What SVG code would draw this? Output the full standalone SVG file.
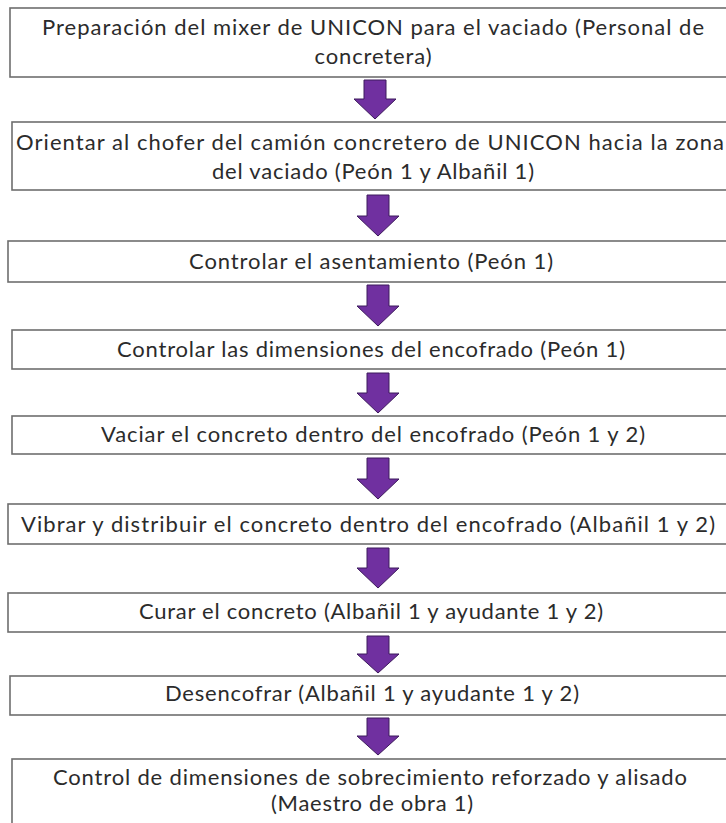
<svg xmlns="http://www.w3.org/2000/svg" width="726" height="823" viewBox="0 0 726 823">
  <style>
    .box { fill: #ffffff; stroke: #6e6e6e; stroke-width: 1.6; }
    .lbl { font-family: Lato, "Open Sans", "Liberation Sans", sans-serif; font-size: 22px; fill: #2b2b2b; text-anchor: middle; }
    .arrow { fill: #7030a0; stroke: #3d1a5c; stroke-width: 1; stroke-linejoin: miter; }
  </style>
  <rect width="726" height="823" fill="#ffffff"/>

  <!-- connectors: block arrows between the steps -->
  <g id="connectors">
    <path class="arrow" d="M364,80 H386 V99 H396 L375,119 L354,99 H364 Z"/>
    <path class="arrow" d="M367,195 H389 V216 H399 L378,236 L357,216 H367 Z"/>
    <path class="arrow" d="M367,285 H389 V306 H399 L378,326 L357,306 H367 Z"/>
    <path class="arrow" d="M367,373 H389 V393 H399 L378,413 L357,393 H367 Z"/>
    <path class="arrow" d="M367,458 H389 V479 H399 L378,499 L357,479 H367 Z"/>
    <path class="arrow" d="M367,548 H389 V568 H399 L378,588 L357,568 H367 Z"/>
    <path class="arrow" d="M367,636 H389 V654 H399 L378,673 L357,654 H367 Z"/>
    <path class="arrow" d="M367,718 H389 V736 H399 L378,755 L357,736 H367 Z"/>
  </g>

  <g id="step1">
    <rect class="box" x="10" y="8" width="730" height="69"/>
    <text class="lbl" x="373" y="35" textLength="662">Preparación del mixer de UNICON para el vaciado (Personal de</text>
    <text class="lbl" x="373" y="64" textLength="117">concretera)</text>
  </g>
  <g id="step2">
    <rect class="box" x="12" y="122" width="730" height="68"/>
    <text class="lbl" x="370" y="150" textLength="708">Orientar al chofer del camión concretero de UNICON hacia la zona</text>
    <text class="lbl" x="373" y="179" textLength="322">del vaciado (Peón 1 y Albañil 1)</text>
  </g>
  <g id="step3">
    <rect class="box" x="8" y="241" width="730" height="41"/>
    <text class="lbl" x="371" y="269" textLength="364">Controlar el asentamiento (Peón 1)</text>
  </g>
  <g id="step4">
    <rect class="box" x="12" y="330" width="730" height="39"/>
    <text class="lbl" x="371" y="357" textLength="508">Controlar las dimensiones del encofrado (Peón 1)</text>
  </g>
  <g id="step5">
    <rect class="box" x="12" y="416" width="730" height="38"/>
    <text class="lbl" x="373" y="442" textLength="544">Vaciar el concreto dentro del encofrado (Peón 1 y 2)</text>
  </g>
  <g id="step6">
    <rect class="box" x="8" y="504" width="730" height="40"/>
    <text class="lbl" x="368" y="532" textLength="694">Vibrar y distribuir el concreto dentro del encofrado (Albañil 1 y 2)</text>
  </g>
  <g id="step7">
    <rect class="box" x="8" y="593" width="730" height="39"/>
    <text class="lbl" x="371" y="619" textLength="464">Curar el concreto (Albañil 1 y ayudante 1 y 2)</text>
  </g>
  <g id="step8">
    <rect class="box" x="10" y="676" width="730" height="39"/>
    <text class="lbl" x="372" y="701" textLength="414">Desencofrar (Albañil 1 y ayudante 1 y 2)</text>
  </g>
  <g id="step9">
    <rect class="box" x="12" y="759" width="730" height="80"/>
    <text class="lbl" x="370" y="785" textLength="634">Control de dimensiones de sobrecimiento reforzado y alisado</text>
    <text class="lbl" x="372" y="811" textLength="202">(Maestro de obra 1)</text>
  </g>
</svg>
